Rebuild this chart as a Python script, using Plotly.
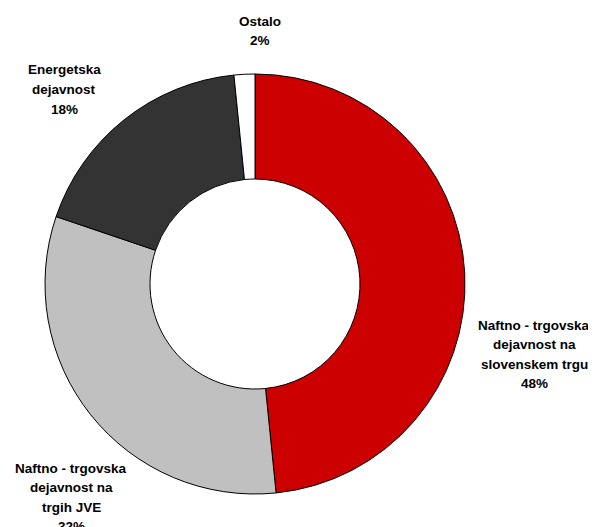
import plotly.graph_objects as go

categories = [
    "Naftno - trgovska<br>dejavnost na<br>slovenskem trgu",
    "Naftno - trgovska<br>dejavnost na<br>trgih JVE",
    "Energetska<br>dejavnost",
    "Ostalo",
]
values = [48.4, 31.8, 18.2, 1.6]
colors = ["#CC0000", "#C0C0C0", "#333333", "#FFFFFF"]

# label anchor centres (page pixels) for each category
label_pos = [(534, 325), (71, 468), (64, 70), (260, 21)]

OFF = 8  # default body margin of the html page
W, H = 596 - OFF, 527 - OFF
cx, cy, r = 255 - OFF, 284 - OFF, 210

fig = go.Figure(go.Pie(
    labels=categories,
    values=values,
    marker=dict(colors=colors, line=dict(color="#000000", width=1)),
    hole=0.5,
    sort=False,
    direction="clockwise",
    rotation=0,
    textinfo="none",
    hoverinfo="label+percent",
    showlegend=False,
    domain=dict(x=[(cx - r) / W, (cx + r) / W], y=[(H - cy - r) / H, (H - cy + r) / H]),
))

total = sum(values)
annotations = []
line_h = 19.5
for cat, v, (px, py) in zip(categories, values, label_pos):
    lines = cat.split("<br>") + [f"{round(v / total * 100)}%"]
    for i, ln in enumerate(lines):
        x = px - OFF
        y = py - OFF + i * line_h
        annotations.append(dict(
            x=x / W, y=1 - y / H, xref="paper", yref="paper",
            text=f"<b>{ln}</b>", showarrow=False,
            xanchor="center", yanchor="middle",
            font=dict(family="Liberation Sans, Arial, sans-serif", size=13.5, color="#000000"),
        ))

fig.update_layout(
    width=W, height=H,
    margin=dict(l=0, r=0, t=0, b=0),
    paper_bgcolor="#FFFFFF",
    plot_bgcolor="#FFFFFF",
    annotations=annotations,
)

fig.write_html("out.html")
